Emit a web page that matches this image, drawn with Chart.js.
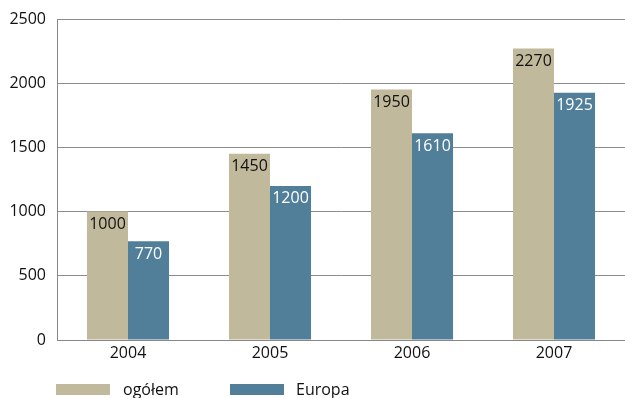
<!DOCTYPE html>
<html>
<head>
<meta charset="utf-8">
<script src="https://cdn.jsdelivr.net/npm/chart.js@4"></script>
<style>
  body { margin: 0; background: #fff; }
  #wrap { position: relative; width: 625px; height: 398px; }
  canvas { display: block; }
  .legend { position: absolute; top: 378px; left: 0; font: 16px "Open Sans", sans-serif; color: #111; }
  .item { position: absolute; white-space: nowrap; top: 0; }
  .sw { position: absolute; width: 54px; height: 11px; top: 6px; }
  .lbl { position: absolute; top: 0; }
</style>
</head>
<body>
<div id="wrap">
  <canvas id="c" width="625" height="398"></canvas>
  <div class="legend">
    <div class="item" style="left:56px"><span class="sw" style="background:#c0b99b"></span><span class="lbl" style="left:67px">ogółem</span></div>
    <div class="item" style="left:230px"><span class="sw" style="background:#517f9a"></span><span class="lbl" style="left:66px">Europa</span></div>
  </div>
</div>
<script>
// dane z wykresu
const years = ['2004', '2005', '2006', '2007'];
const ogolem = [1000, 1450, 1950, 2270];
const europa = [770, 1200, 1610, 1925];
const yTicks = [0, 500, 1000, 1500, 2000, 2500];

const FONT = '"Open Sans", sans-serif';

// etykiety wartosci wewnatrz slupkow
const barLabels = {
    id: 'barLabels',
    afterDatasetsDraw(chart) {
        const ctx = chart.ctx;
        ctx.save();
        ctx.font = '16px ' + FONT;
        ctx.textAlign = 'center';
        ctx.textBaseline = 'middle';
        chart.data.datasets.forEach((ds, i) => {
            chart.getDatasetMeta(i).data.forEach((bar, j) => {
                ctx.fillStyle = i === 0 ? '#111' : '#ffffff';
                ctx.fillText(String(ds.data[j]), bar.x, bar.y + 13);
            });
        });
        ctx.restore();
    }
};

new Chart(document.getElementById('c'), {
    type: 'bar',
    data: {
        labels: years,
        datasets: [
            { label: 'ogółem', data: ogolem, backgroundColor: '#c0b99b' },
            { label: 'Europa', data: europa, backgroundColor: '#517f9a' }
        ]
    },
    options: {
        responsive: false,
        animation: false,
        events: [],
        layout: { padding: { top: 17, right: 0, bottom: 33, left: 0 } },
        datasets: { bar: { categoryPercentage: 0.578, barPercentage: 1 } },
        plugins: { legend: { display: false }, tooltip: { enabled: false } },
        scales: {
            x: {
                grid: { display: false, drawTicks: false },
                border: { color: '#888', width: 1 },
                ticks: { color: '#111', font: { family: FONT, size: 16 }, padding: 4 },
                afterFit(s) { s.height = 25; }
            },
            y: {
                min: 0, max: 2500,
                afterBuildTicks(s) { s.ticks = yTicks.map(v => ({ value: v })); },
                grid: { color: '#8c8c8c', lineWidth: 1, drawTicks: false },
                border: { color: '#888', width: 1 },
                ticks: {
                    color: '#111', font: { family: FONT, size: 16, lineHeight: 1 }, padding: 11,
                    callback: v => String(v)
                },
                afterFit(s) { s.width = 57; }
            }
        }
    },
    plugins: [barLabels]
});
</script>
</body>
</html>
